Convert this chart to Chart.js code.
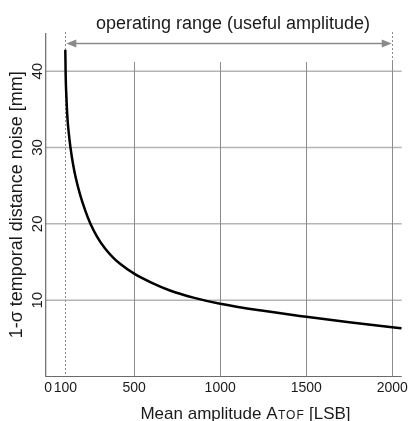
<!DOCTYPE html>
<html>
<head>
<meta charset="utf-8">
<script src="https://cdn.jsdelivr.net/npm/chart.js@4"></script>
<style>
  html, body { margin: 0; padding: 0; background: #fff; }
  #wrap { width: 412px; height: 421px; }
</style>
</head>
<body>
<div id="wrap"><canvas id="c" width="412" height="421"></canvas></div>
<script>
// ---- data ----
const amplitude = [100, 102, 106, 112, 120, 130, 145, 160, 185, 215, 246, 285, 330, 375, 422, 500, 600, 708, 850, 1000, 1250, 1500, 1750, 2000, 2055];
const noise     = [42.8, 39.5, 36.8, 34.0, 31.9, 30.0, 27.8, 26.1, 23.9, 21.8, 20.0, 18.3, 16.8, 15.65, 14.7, 13.47, 12.3, 11.27, 10.3, 9.53, 8.6, 7.82, 7.1, 6.45, 6.31];

const xTickValues = [0, 100, 500, 1000, 1500, 2000];
const xTickLabels = ['0', '100', '500', '1000', '1500', '2000'];
const yTickValues = [10, 20, 30, 40];
const yTickLabels = ['10', '20', '30', '40'];
const xGridValues = [500, 1000, 1500, 2000];
const yGridValues = [10, 20, 30, 40];
const operatingRange = [100, 2000];

const titleText = 'operating range (useful amplitude)';
const xTitleMain = 'Mean amplitude A';
const xTitleSub = 'TOF';
const xTitleEnd = ' [LSB]';
const yTitleText = '1-σ temporal distance noise [mm]';

const FONT = 'Arial, "Liberation Sans", Helvetica, sans-serif';

const overlay = {
  id: 'overlay',
  beforeDatasetsDraw(chart) {
    const { ctx, chartArea: a, scales: { x, y } } = chart;
    ctx.save();
    // horizontal grid
    ctx.strokeStyle = '#b4b4b4';
    ctx.lineWidth = 1.5;
    yGridValues.forEach(v => {
      const py = y.getPixelForValue(v);
      ctx.beginPath(); ctx.moveTo(a.left, py); ctx.lineTo(a.right, py); ctx.stroke();
    });
    // vertical grid
    ctx.strokeStyle = '#8c8c8c';
    ctx.lineWidth = 1;
    const vTop = y.getPixelForValue(41.2);
    xGridValues.forEach(v => {
      const px = Math.round(x.getPixelForValue(v)) + 0.5;
      ctx.beginPath(); ctx.moveTo(px, vTop); ctx.lineTo(px, a.bottom); ctx.stroke();
    });
    // dotted operating range bounds
    ctx.strokeStyle = '#8c8c8c';
    ctx.setLineDash([2, 2]);
    operatingRange.forEach(v => {
      const px = Math.round(x.getPixelForValue(v)) + 0.5;
      ctx.beginPath(); ctx.moveTo(px, a.top - 1); ctx.lineTo(px, a.bottom); ctx.stroke();
    });
    ctx.restore();
  },
  afterDatasetsDraw(chart) {
    const { ctx, chartArea: a, scales: { x, y } } = chart;
    ctx.save();
    // axes
    ctx.strokeStyle = '#6a6a6a';
    ctx.lineWidth = 1.2;
    ctx.beginPath();
    ctx.moveTo(a.left, a.top); ctx.lineTo(a.left, a.bottom); ctx.lineTo(a.right, a.bottom);
    ctx.stroke();

    // arrow for operating range
    const ax1 = x.getPixelForValue(operatingRange[0]) + 1;
    const ax2 = x.getPixelForValue(operatingRange[1]) - 0.5;
    const ay = 43.5;
    const head = 10, hw = 4;
    ctx.strokeStyle = '#8a8a8a';
    ctx.fillStyle = '#8a8a8a';
    ctx.lineWidth = 1.4;
    ctx.beginPath(); ctx.moveTo(ax1 + head - 1, ay); ctx.lineTo(ax2 - head + 1, ay); ctx.stroke();
    ctx.beginPath(); ctx.moveTo(ax1, ay); ctx.lineTo(ax1 + head, ay - hw); ctx.lineTo(ax1 + head, ay + hw); ctx.closePath(); ctx.fill();
    ctx.beginPath(); ctx.moveTo(ax2, ay); ctx.lineTo(ax2 - head, ay - hw); ctx.lineTo(ax2 - head, ay + hw); ctx.closePath(); ctx.fill();

    // top title
    ctx.fillStyle = '#1a1a1a';
    ctx.font = '18px ' + FONT;
    ctx.textAlign = 'center';
    ctx.textBaseline = 'alphabetic';
    ctx.fillText(titleText, (ax1 + ax2) / 2 + 4, 28.5);

    // x tick labels
    ctx.font = '14px ' + FONT;
    ctx.fillStyle = '#1a1a1a';
    ctx.textAlign = 'center';
    xTickValues.forEach((v, i) => {
      ctx.fillText(xTickLabels[i], x.getPixelForValue(v), 392);
    });

    // y tick labels (rotated)
    ctx.font = '15px ' + FONT;
    yTickValues.forEach((v, i) => {
      ctx.save();
      ctx.translate(38, y.getPixelForValue(v));
      ctx.rotate(-Math.PI / 2);
      ctx.textAlign = 'center';
      ctx.textBaseline = 'middle';
      ctx.fillText(yTickLabels[i], 0, 0);
      ctx.restore();
    });

    // x axis title with small subscript
    ctx.textAlign = 'left';
    ctx.textBaseline = 'alphabetic';
    ctx.font = '17px ' + FONT;
    const mainW = ctx.measureText(xTitleMain).width;
    ctx.font = '12px ' + FONT;
    const subW = ctx.measureText(xTitleSub).width + 3;
    ctx.font = '17px ' + FONT;
    const endW = ctx.measureText(xTitleEnd).width;
    const total = mainW + subW + endW;
    let tx = 245.5 - total / 2;
    const tb = 419;
    ctx.fillText(xTitleMain, tx, tb); tx += mainW;
    ctx.font = '12px ' + FONT;
    ctx.letterSpacing = '1px';
    ctx.fillText(xTitleSub, tx + 0.5, tb); tx += subW;
    ctx.letterSpacing = '0px';
    ctx.font = '17px ' + FONT;
    ctx.fillText(xTitleEnd, tx, tb);

    // y axis title
    ctx.save();
    ctx.translate(17.5, (a.top + a.bottom) / 2);
    ctx.rotate(-Math.PI / 2);
    ctx.font = '18px ' + FONT;
    ctx.textAlign = 'center';
    ctx.textBaseline = 'middle';
    ctx.fillText(yTitleText, 0, 0);
    ctx.restore();

    ctx.restore();
  }
};

new Chart(document.getElementById('c'), {
  type: 'scatter',
  data: {
    datasets: [{
      data: amplitude.map((v, i) => ({ x: v, y: noise[i] })),
      showLine: true,
      borderColor: '#000',
      borderWidth: 2.5,
      pointRadius: 0,
      cubicInterpolationMode: 'monotone',
      fill: false
    }]
  },
  options: {
    responsive: false,
    animation: false,
    devicePixelRatio: 1,
    layout: { padding: { left: 45.7, top: 33, right: 10.3, bottom: 44.5 } },
    plugins: { legend: { display: false }, tooltip: { enabled: false } },
    scales: {
      x: { type: 'linear', min: -14, max: 2055, display: false },
      y: { type: 'linear', min: 0, max: 45, display: false }
    }
  },
  plugins: [overlay]
});
</script>
</body>
</html>
